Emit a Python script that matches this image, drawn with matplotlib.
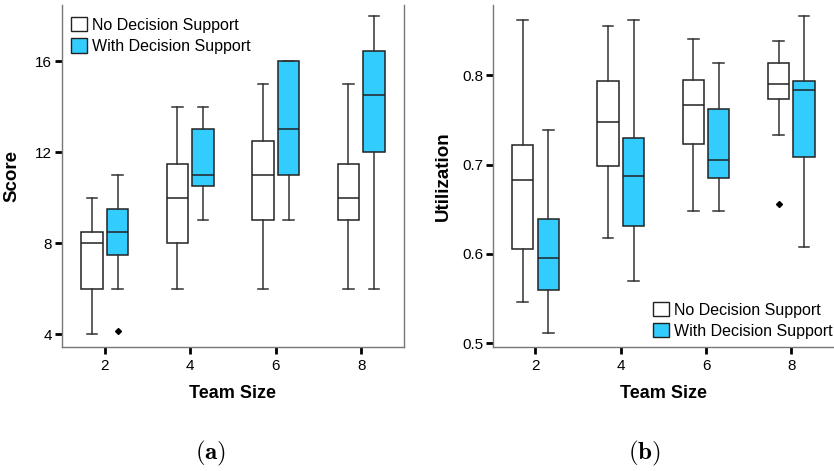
import matplotlib
matplotlib.use("Agg")
import matplotlib.pyplot as plt
from matplotlib.patches import Patch

plt.rcParams['font.family'] = ['Liberation Sans', 'DejaVu Sans']
plt.rcParams['mathtext.fontset'] = 'cm'

team_sizes = [2, 4, 6, 8]
groups = ["No Decision Support", "With Decision Support"]
colors = ["white", "#33ccff"]

# Score (a): whislo, q1, med, q3, whishi, fliers
score_no = {
    "whislo": [4, 6, 6, 6],
    "q1": [6, 8, 9, 9],
    "med": [8, 10, 11, 10],
    "q3": [8.5, 11.5, 12.5, 11.5],
    "whishi": [10, 14, 15, 15],
    "fliers": [[], [], [], []],
}
score_ds = {
    "whislo": [6, 9, 9, 6],
    "q1": [7.5, 10.5, 11, 12],
    "med": [8.5, 11, 13, 14.5],
    "q3": [9.5, 13, 16, 16.45],
    "whishi": [11, 14, 16, 18],
    "fliers": [[4.15], [], [], []],
}

# Utilization (b)
util_no = {
    "whislo": [0.546, 0.618, 0.648, 0.733],
    "q1": [0.606, 0.698, 0.723, 0.774],
    "med": [0.683, 0.748, 0.767, 0.790],
    "q3": [0.722, 0.794, 0.795, 0.814],
    "whishi": [0.862, 0.855, 0.841, 0.838],
    "fliers": [[], [], [], [0.656]],
}
util_ds = {
    "whislo": [0.511, 0.570, 0.648, 0.608],
    "q1": [0.560, 0.631, 0.685, 0.709],
    "med": [0.596, 0.687, 0.705, 0.783],
    "q3": [0.639, 0.730, 0.762, 0.794],
    "whishi": [0.739, 0.862, 0.814, 0.866],
    "fliers": [[], [], [], []],
}


def make_stats(d):
    out = []
    for i in range(len(team_sizes)):
        out.append({k: d[k][i] for k in ["whislo", "q1", "med", "q3", "whishi", "fliers"]})
    return out


def draw_boxes(ax, d, offset, color):
    pos = [t + offset for t in team_sizes]
    ax.bxp(make_stats(d), positions=pos, widths=0.5, capwidths=0.25,
           patch_artist=True, showfliers=True, manage_ticks=False,
           boxprops=dict(facecolor=color, edgecolor="#222222", linewidth=1.1),
           medianprops=dict(color="#222222", linewidth=1.1),
           whiskerprops=dict(color="#333333", linewidth=1.1),
           capprops=dict(color="#333333", linewidth=1.1),
           flierprops=dict(marker="D", markersize=3, markerfacecolor="black",
                           markeredgecolor="black"))


def style_axes(ax, ylabel, right_spine):
    ax.set_xlim(1, 9)
    ax.set_xticks(team_sizes)
    ax.spines["top"].set_visible(False)
    ax.spines["right"].set_visible(right_spine)
    for s in ["left", "bottom", "right"]:
        ax.spines[s].set_color("#777777")
        ax.spines[s].set_linewidth(1.0)
    ax.tick_params(axis="both", direction="out", length=5, width=2.0,
                   color="black", labelsize=11)
    ax.tick_params(axis="y", pad=2)
    ax.tick_params(axis="x", pad=4)
    ax.set_ylabel(ylabel, fontsize=13.5, fontweight="bold")
    ax.set_xlabel("Team Size", fontsize=13, fontweight="bold")
    ax.yaxis.set_label_coords(-0.12, 0.5)
    ax.xaxis.set_label_coords(0.5, -0.111)


fig = plt.figure(figsize=(8.34, 4.71), dpi=100)
ax1 = fig.add_axes([0.0743, 0.2633, 0.4101, 0.7261])
ax2 = fig.add_axes([0.5908, 0.2639, 0.4092, 0.7255])

draw_boxes(ax1, score_no, -0.3, colors[0])
draw_boxes(ax1, score_ds, 0.3, colors[1])
ax1.set_ylim(3.44, 18.47)
ax1.set_yticks([4, 8, 12, 16])
style_axes(ax1, "Score", True)

draw_boxes(ax2, util_no, -0.3, colors[0])
draw_boxes(ax2, util_ds, 0.3, colors[1])
ax2.set_ylim(0.4962, 0.8787)
ax2.set_yticks([0.5, 0.6, 0.7, 0.8])
ax2.set_yticklabels(["0.5", "0.6", "0.7", "0.8"])
style_axes(ax2, "Utilization", False)

handles = [Patch(facecolor=c, edgecolor="#222222", linewidth=1.0, label=g)
           for g, c in zip(groups, colors)]
ax1.legend(handles=handles, loc="upper left", bbox_to_anchor=(0.0, 0.99),
           frameon=False, fontsize=11.5, handlelength=1.0, handleheight=1.0,
           handletextpad=0.35, labelspacing=0.35, borderaxespad=0.15)
ax2.legend(handles=handles, loc="lower right", bbox_to_anchor=(1.02, 0.0),
           frameon=False, fontsize=11.5, handlelength=1.0, handleheight=1.0,
           handletextpad=0.35, labelspacing=0.35, borderaxespad=0.1)

fig.text(211 / 834, 1 - 453 / 471, r"$\mathbf{(a)}$", ha="center", va="center", fontsize=18)
fig.text(644 / 834, 1 - 453 / 471, r"$\mathbf{(b)}$", ha="center", va="center", fontsize=18)

fig.savefig("out.png", dpi=100)
